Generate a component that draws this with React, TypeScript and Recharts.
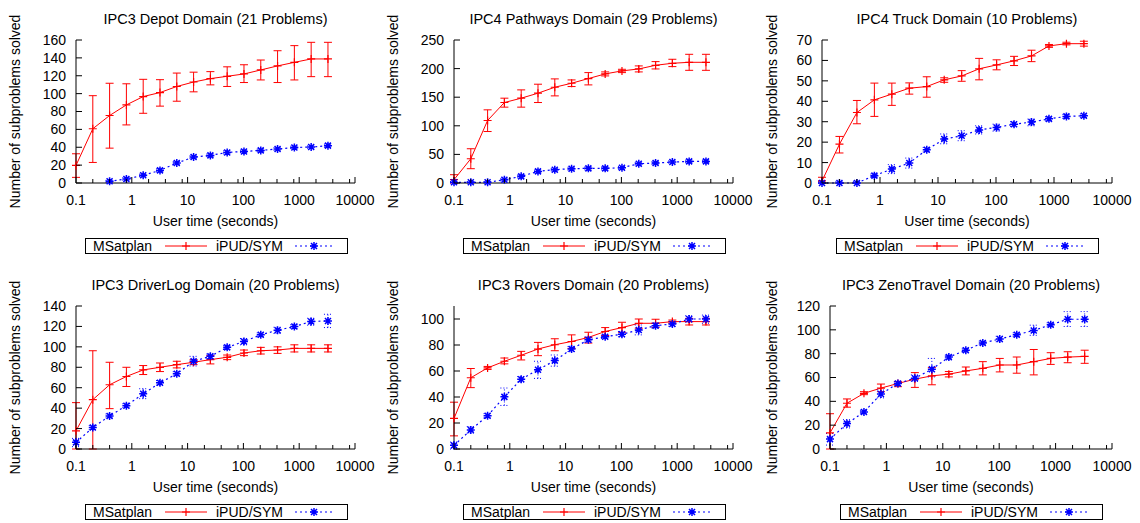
import { LineChart, Line, XAxis, YAxis, ErrorBar } from 'recharts'

const RED = '#ff0000'
const BLUE = '#0000ff'
const FONT = '"Liberation Sans", Arial, Helvetica, sans-serif'

// run-time cut-offs (seconds), shared by every panel
const times = [0.1, 0.2, 0.4, 0.8, 1.6, 3.2, 6.4, 12.8, 25.6, 51.2, 102.4, 204.8, 409.6, 819.2, 1638.4, 3276.8]
const decadeTicks = [0.1, 1, 10, 100, 1000, 10000]
const xTicks = [0.1, 0.2, 0.4, 0.8, 1, 2, 4, 8, 10, 20, 40, 80, 100, 200, 400, 800, 1000, 2000, 4000, 8000, 10000]

// IPC3 Depot
const depotMsat = [19.7, 60.7, 75.5, 87.4, 96.7, 101.2, 108, 113, 116.8, 119.4, 122, 126.5, 131, 135, 138.8, 138.8]
const depotMsatLo = [6.3, 23, 39, 65, 78, 86, 91.5, 102, 109.8, 108, 112.4, 115.3, 112.4, 115.3, 119, 119]
const depotMsatHi = [32.7, 97.7, 111.6, 111, 116, 115.6, 123, 124, 124.6, 130, 132.3, 137.6, 148, 153.7, 157.4, 157.4]
const depotIpud = [null, null, 1.9, 4.5, 8.6, 14.1, 22.3, 29, 30.9, 34.2, 35.3, 36.5, 38, 39.8, 40.2, 41.8]
const depotIpudLo = [null, null, 0.5, 3, 7, 12.5, 20.5, 27.5, 29.5, 32.5, 34, 35, 36.5, 38.5, 38.8, 40]
const depotIpudHi = [null, null, 3, 6, 10, 15.8, 24, 30.5, 32.5, 36, 36.8, 38, 39.6, 41.2, 41.6, 43.5]
const depotYTicks = [0, 20, 40, 60, 80, 100, 120, 140, 160]

// IPC4 Pathways
const pathMsat = [5.8, 42.4, 109.3, 140.7, 148.3, 157, 167.4, 174.4, 182.6, 190.7, 196, 199.4, 205.8, 209.3, 211, 211]
const pathMsatLo = [0, 25, 90, 132.6, 132.6, 140.7, 152.3, 168.6, 171.5, 187.2, 193, 194.2, 199.4, 203.5, 197, 197]
const pathMsatHi = [14.5, 59.9, 127.9, 148.3, 162.8, 172.7, 182, 180.2, 193, 194.2, 198.8, 204.7, 212.2, 216.3, 225, 225]
const pathIpud = [1.2, 1.2, 1.2, 5.8, 11.6, 20.3, 23.3, 25, 25.6, 25.6, 26.7, 33.7, 34.9, 36.6, 37.8, 37.8]
const pathIpudLo = [0, 0, 0, 3.5, 9, 18, 21, 22.5, 23, 23, 24, 31.5, 32.5, 34.5, 35.5, 35.5]
const pathIpudHi = [2.5, 2.5, 2.5, 8, 14, 22.5, 25.5, 27.5, 28, 28, 29, 36, 37.5, 39, 40, 40]
const pathYTicks = [0, 50, 100, 150, 200, 250]

// IPC4 Truck
const truckMsat = [1, 19, 34.5, 40.7, 43.5, 46.4, 47.2, 50.5, 52.4, 55.9, 57.8, 59.8, 62.2, 67.1, 68.2, 68.2]
const truckMsatLo = [0, 14.7, 29, 32.6, 38, 43.5, 42, 49.3, 49.8, 50.5, 55.4, 57.5, 59.4, 66.4, 67.6, 67]
const truckMsatHi = [2.8, 22.8, 40.4, 48.9, 48.9, 49, 52, 51.5, 55, 61, 60.3, 62, 65, 67.8, 68.9, 69.4]
const truckIpud = [0, 0, 0, 3.6, 6.8, 9.8, 16.3, 21.5, 23.1, 26, 27.2, 28.8, 29.8, 31.4, 32.6, 32.9]
const truckIpudLo = [0, 0, 0, 2.8, 4.6, 7.3, 15.2, 19.2, 20.7, 24, 25.4, 27.6, 28, 30.4, 31.6, 32]
const truckIpudHi = [0.8, 0.8, 0.8, 4.4, 9, 12.2, 17.4, 24, 25.6, 28, 28.8, 30, 31.3, 32.4, 33.6, 33.8]
const truckYTicks = [0, 10, 20, 30, 40, 50, 60, 70]

// IPC3 DriverLog
const drvMsat = [17.8, 48.3, 62.9, 71, 77.4, 80, 82.6, 84.9, 87.5, 89.8, 94, 96.2, 96.9, 98.5, 98.5, 98.5]
const drvMsatLo = [0, 0, 39.5, 61.2, 72.9, 75.8, 79.4, 82.6, 83.3, 87.5, 91.4, 93, 93.6, 95, 95, 95]
const drvMsatHi = [45.4, 96.2, 84.9, 80, 81.7, 84.2, 85.9, 87.5, 91.4, 92, 96.9, 99.5, 100, 102, 102, 102]
const drvIpud = [6.5, 21, 32.4, 42.4, 54, 64.8, 73.6, 85.9, 90.7, 99.5, 105.3, 111.8, 116.3, 119.9, 124.8, 125.4]
const drvIpudLo = [2.3, 19, 30.5, 40.5, 49.3, 62.5, 71.5, 81.3, 88.5, 97.5, 102, 109.8, 113.1, 118, 121.2, 118.9]
const drvIpudHi = [10.4, 23, 34.3, 44.3, 59, 67, 75.7, 90.7, 93, 101.5, 108.2, 113.7, 119.2, 121.8, 128, 131.9]
const drvYTicks = [0, 20, 40, 60, 80, 100, 120, 140]

// IPC3 Rovers
const rovMsat = [23.5, 54.8, 62.4, 67.5, 72.1, 76.9, 80.2, 82.7, 85.8, 90.4, 93.4, 96.7, 96.7, 98, 98, 98]
const rovMsatLo = [10.1, 47.2, 61.2, 65.5, 68.5, 71.8, 75.6, 77.4, 81.5, 87.3, 89.8, 92.9, 93.5, 96.7, 95.4, 95.4]
const rovMsatHi = [36, 61.9, 63.5, 70, 75.1, 82, 84.8, 87.8, 89.8, 93.4, 97.5, 100, 99.8, 99.2, 100.5, 100.5]
const rovIpud = [2.8, 14.7, 25.6, 40.1, 53.6, 60.9, 68, 76.9, 84, 86.3, 88.3, 91.6, 94.9, 96.2, 100, 100]
const rovIpudLo = [0, 12.2, 24, 33.5, 51.5, 54.3, 63.7, 75, 82.2, 85, 86.3, 87.8, 93, 94.4, 97.5, 96.7]
const rovIpudHi = [5.3, 17.3, 27.2, 46.9, 55.7, 67.5, 72.3, 78.8, 86, 87.6, 90.4, 95.4, 96.7, 98, 102.5, 103]
const rovYTicks = [0, 20, 40, 60, 80, 100]

// IPC3 ZenoTravel
const zenMsat = [13.5, 38.4, 46.7, 51.1, 55, 58.6, 61.4, 62.8, 65.5, 67.7, 70.5, 70.5, 73.3, 76, 77.1, 77.7]
const zenMsatLo = [0, 35.1, 45.6, 48.1, 52.3, 51.7, 53.9, 60.5, 62.2, 62.2, 64.7, 63.6, 62.2, 71, 72.4, 71.9]
const zenMsatHi = [29.6, 42, 48.1, 54.5, 56.7, 64.1, 68.3, 65, 68.8, 73.3, 76, 77.2, 83.5, 80.8, 81.6, 82.9]
const zenIpud = [8.3, 21.3, 31, 46.2, 55, 59.4, 66.9, 77.1, 82.9, 89, 92.3, 95.9, 99.5, 104.2, 108.9, 108.9]
const zenIpudLo = [3.3, 17.7, 29.5, 42.9, 53.5, 56.7, 60.5, 75.5, 81.3, 87.5, 90, 94.3, 95.4, 102.5, 102.8, 102.8]
const zenIpudHi = [13, 24.6, 32.5, 49.5, 56.5, 62.2, 76, 78.7, 84.5, 90.5, 94.6, 97.5, 103.9, 105.9, 115.3, 115.3]
const zenYTicks = [0, 20, 40, 60, 80, 100, 120]

type Num = number | null

function buildRows(msat: Num[], msatLo: Num[], msatHi: Num[], ipud: Num[], ipudLo: Num[], ipudHi: Num[]) {
  return times.map((t, i) => {
    const m = msat[i] as number
    const p = ipud[i]
    return {
      t,
      msat: m,
      msatErr: [m - (msatLo[i] as number), (msatHi[i] as number) - m],
      ipud: p,
      ipudErr: p == null ? undefined : [p - (ipudLo[i] as number), (ipudHi[i] as number) - p],
    }
  })
}

function PlusMark({ x, y }: { x: number; y: number }) {
  return <path d={`M${x - 4},${y}h8M${x},${y - 4}v8`} stroke={RED} strokeWidth={1.2} fill="none" />
}

function StarMark({ x, y }: { x: number; y: number }) {
  return (
    <path
      d={`M${x - 4},${y}h8M${x},${y - 4}v8M${x - 3},${y - 3}l6,6M${x - 3},${y + 3}l6,-6`}
      stroke={BLUE}
      strokeWidth={1.5}
      fill="none"
    />
  )
}

function XTick(props: any) {
  const { x, y, payload } = props
  const major = decadeTicks.includes(payload.value)
  const axisY = y - 12
  return (
    <g>
      <line x1={x} x2={x} y1={axisY} y2={axisY - (major ? 6 : 4)} stroke="#000" />
      {major && (
        <text x={x} y={y} dy="0.71em" textAnchor="middle" fontSize={14} fill="#000" fontFamily={FONT}>
          {payload.value}
        </text>
      )}
    </g>
  )
}

function YTick(props: any) {
  const { x, y, payload } = props
  return (
    <g>
      <line x1={x + 10} x2={x + 16} y1={y} y2={y} stroke="#000" />
      <text x={x} y={y} dy="0.355em" textAnchor="end" fontSize={14} fill="#000" fontFamily={FONT}>
        {payload.value}
      </text>
    </g>
  )
}

interface PanelProps {
  title: string
  rows: ReturnType<typeof buildRows>
  yMax: number
  yTicks: number[]
  left: number
  top: number
  plotLeft: number
  plotRight: number
  yLabelX: number
}

function Panel({ title, rows, yMax, yTicks, left, top, plotLeft, plotRight, yLabelX }: PanelProps) {
  const cx = (plotLeft + plotRight) / 2
  return (
    <div style={{ position: 'absolute', left, top, width: 380, height: 260 }}>
      <LineChart
        width={380}
        height={260}
        data={rows}
        margin={{ top: 40, right: 380 - plotRight, bottom: 0, left: 0 }}
        style={{ fontFamily: FONT }}
      >
        <XAxis
          dataKey="t"
          type="number"
          scale="log"
          domain={[0.1, 10000]}
          ticks={xTicks}
          interval={0}
          tickSize={0}
          tickMargin={12}
          tickLine={false}
          tick={XTick}
          height={77}
          axisLine={{ stroke: '#000' }}
          label={{ value: 'User time (seconds)', position: 'insideTop', offset: 33, fill: '#000', fontSize: 14, fontFamily: FONT }}
        />
        <YAxis
          type="number"
          domain={[0, yMax]}
          ticks={yTicks}
          interval={0}
          width={plotLeft}
          tickSize={0}
          tickMargin={10}
          tickLine={false}
          tick={YTick}
          axisLine={{ stroke: '#000' }}
          label={{
            value: 'Number of subproblems solved',
            angle: -90,
            position: 'insideLeft',
            offset: yLabelX,
            style: { textAnchor: 'middle' },
            fill: '#000',
            fontSize: 14,
            fontFamily: FONT,
          }}
        />
        <Line
          dataKey="msat"
          stroke={RED}
          strokeWidth={1}
          isAnimationActive={false}
          activeDot={false}
          dot={(p: any) => (p.cy == null ? <g key={p.index} /> : <PlusMark key={p.index} x={p.cx} y={p.cy} />)}
        >
          <ErrorBar dataKey="msatErr" direction="y" width={4} stroke={RED} strokeWidth={1} isAnimationActive={false} />
        </Line>
        <Line
          dataKey="ipud"
          stroke={BLUE}
          strokeWidth={1.2}
          strokeDasharray="2 3"
          isAnimationActive={false}
          activeDot={false}
          dot={(p: any) => (p.cy == null ? <g key={p.index} /> : <StarMark key={p.index} x={p.cx} y={p.cy} />)}
        >
          <ErrorBar dataKey="ipudErr" direction="y" width={4} stroke={BLUE} strokeWidth={1} strokeDasharray="1 2" isAnimationActive={false} />
        </Line>
      </LineChart>
      <svg
        width={380}
        height={260}
        style={{ position: 'absolute', left: 0, top: 0, pointerEvents: 'none', fontFamily: FONT }}
      >
        <text x={cx} y={24} textAnchor="middle" fontSize={14.5} fill="#000">
          {title}
        </text>
        <g transform={`translate(${Math.round(cx - 131)}, 238)`}>
          <rect x={0.5} y={0.5} width={262} height={15} fill="#fff" stroke="#000" />
          <text x={8} y={13} fontSize={14} fill="#000">MSatplan</text>
          <line x1={80} x2={122} y1={8} y2={8} stroke={RED} />
          <PlusMark x={101} y={8} />
          <text x={131} y={13} fontSize={14} fill="#000">iPUD/SYM</text>
          <line x1={210} x2={248} y1={8} y2={8} stroke={BLUE} strokeWidth={1.2} strokeDasharray="2 3" />
          <StarMark x={229} y={8} />
        </g>
      </svg>
    </div>
  )
}

export default function App() {
  return (
    <div style={{ position: 'absolute', left: 0, top: 0, width: 1140, height: 523, background: '#fff', fontFamily: FONT }}>
      <Panel
        title="IPC3 Depot Domain (21 Problems)"
        rows={buildRows(depotMsat, depotMsatLo, depotMsatHi, depotIpud, depotIpudLo, depotIpudHi)}
        yMax={160}
        yTicks={depotYTicks}
        left={0}
        top={0}
        plotLeft={76}
        plotRight={355}
        yLabelX={15}
      />
      <Panel
        title="IPC4 Pathways Domain (29 Problems)"
        rows={buildRows(pathMsat, pathMsatLo, pathMsatHi, pathIpud, pathIpudLo, pathIpudHi)}
        yMax={250}
        yTicks={pathYTicks}
        left={380}
        top={0}
        plotLeft={74}
        plotRight={353}
        yLabelX={13.5}
      />
      <Panel
        title="IPC4 Truck Domain (10 Problems)"
        rows={buildRows(truckMsat, truckMsatLo, truckMsatHi, truckIpud, truckIpudLo, truckIpudHi)}
        yMax={70}
        yTicks={truckYTicks}
        left={760}
        top={0}
        plotLeft={62}
        plotRight={352}
        yLabelX={12.5}
      />
      <Panel
        title="IPC3 DriverLog Domain (20 Problems)"
        rows={buildRows(drvMsat, drvMsatLo, drvMsatHi, drvIpud, drvIpudLo, drvIpudHi)}
        yMax={140}
        yTicks={drvYTicks}
        left={0}
        top={266}
        plotLeft={76}
        plotRight={355}
        yLabelX={15}
      />
      <Panel
        title="IPC3 Rovers Domain (20 Problems)"
        rows={buildRows(rovMsat, rovMsatLo, rovMsatHi, rovIpud, rovIpudLo, rovIpudHi)}
        yMax={110}
        yTicks={rovYTicks}
        left={380}
        top={266}
        plotLeft={74}
        plotRight={353}
        yLabelX={13.5}
      />
      <Panel
        title="IPC3 ZenoTravel Domain (20 Problems)"
        rows={buildRows(zenMsat, zenMsatLo, zenMsatHi, zenIpud, zenIpudLo, zenIpudHi)}
        yMax={120}
        yTicks={zenYTicks}
        left={760}
        top={266}
        plotLeft={70}
        plotRight={352}
        yLabelX={12}
      />
    </div>
  )
}
